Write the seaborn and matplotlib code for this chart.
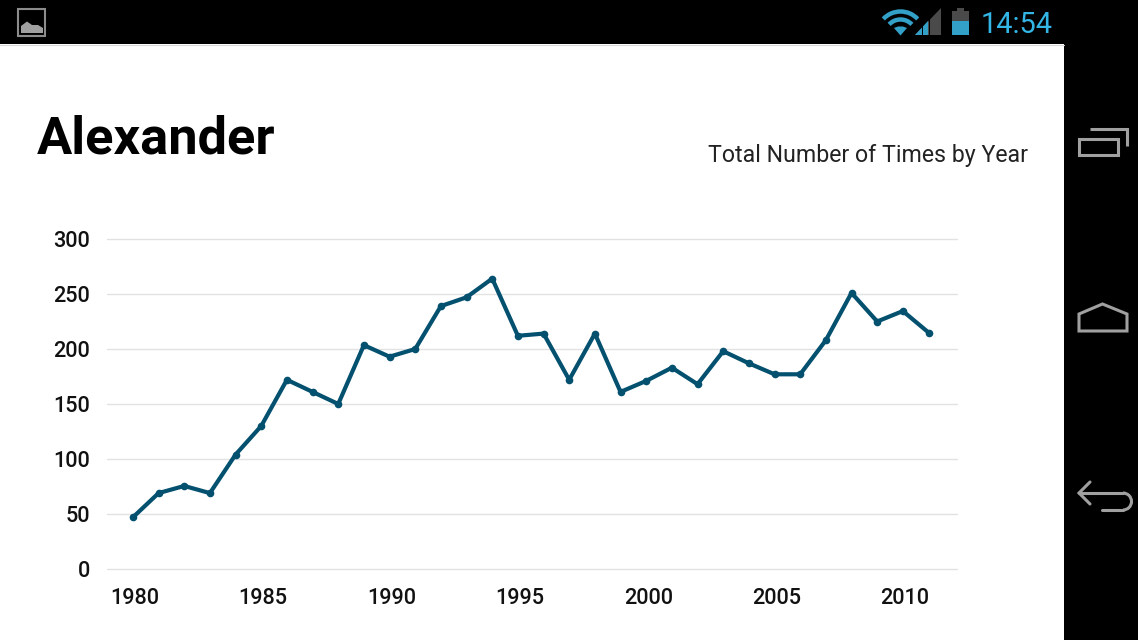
import matplotlib
matplotlib.use("Agg")
import matplotlib.pyplot as plt
from matplotlib.patches import Rectangle, Polygon, Arc
from matplotlib.transforms import ScaledTranslation
import pandas as pd
import seaborn as sns

years = list(range(1980, 2012))
counts = [47, 69, 75.5, 69, 104, 130, 172, 161, 150, 203.5, 193, 200, 239, 247, 264, 212,
          214, 172, 214, 161, 171, 183, 168, 198, 187, 177, 177, 208, 251, 225, 234.5, 215]
y_ticks = [0, 50, 100, 150, 200, 250, 300]
x_ticks = [1980, 1985, 1990, 1995, 2000, 2005, 2010]
title = "Alexander"
subtitle = "Total Number of Times by Year"
clock = "14:54"

LINE = "#03506f"
GRID = "#e2e2e2"
HOLO = "#33a0c8"
ICON = "#a0a0a0"
DARK = "#4a4a4a"

sns.set_theme(style="white")
plt.rcParams["font.family"] = ["Roboto", "DejaVu Sans"]

W, H = 1138, 640
fig = plt.figure(figsize=(W / 100, H / 100), dpi=100, facecolor="white")

# chart axes: 107..957 px wide, y 239..569 px for 300..0
ax = fig.add_axes([107 / W, 1 - 569 / H, 850 / W, 330 / H])
df = pd.DataFrame({"year": years, "count": counts})
sns.lineplot(data=df, x="year", y="count", ax=ax, color=LINE, linewidth=3.0,
             marker="o", markersize=5.5, markeredgewidth=0, zorder=3)
ax.set_xlim(1978.99, 2012.11)
ax.set_ylim(0, 300)
ax.set_xticks(x_ticks)
ax.set_yticks(y_ticks)
ax.set_xlabel("")
ax.set_ylabel("")
ax.set_facecolor("none")
ax.grid(axis="y", color=GRID, linewidth=1, clip_on=False)
for s in ax.spines.values():
    s.set_visible(False)
ax.tick_params(axis="both", length=0, labelsize=15.6, labelcolor="#111111")
for lab in ax.get_xticklabels() + ax.get_yticklabels():
    lab.set_fontweight("medium")
ax.tick_params(axis="x", pad=14)
ax.tick_params(axis="y", pad=12.2)
shift = ScaledTranslation(2 / 100, 0, fig.dpi_scale_trans)
for lab in ax.get_xticklabels():
    lab.set_transform(lab.get_transform() + shift)

fig.text(37 / W, 1 - 154 / H, title, fontsize=37.7, fontweight="bold", color="black",
         ha="left", va="baseline")
fig.text(1028 / W, 1 - 162 / H, subtitle, fontsize=16.7, color="#222222",
         ha="right", va="baseline")

# device chrome in pixel coordinates
ch = fig.add_axes([0, 0, 1, 1], zorder=5)
ch.set_xlim(0, W)
ch.set_ylim(H, 0)
ch.axis("off")
ch.add_patch(Rectangle((0, 0), W, 44, fc="black", ec="none"))
ch.add_patch(Rectangle((1064, 0), W - 1064, H, fc="black", ec="none"))
ch.plot([0, 1064], [44.5, 44.5], color="#d8d8d8", lw=0.8)

# picture notification icon
ch.add_patch(Rectangle((18.5, 8.5), 27, 27, fc="none", ec="#8c8c8c", lw=1.5))
ch.add_patch(Polygon([(21, 33), (21, 26), (27, 21.5), (32, 25), (38, 25), (43, 28), (43, 33)],
                     fc=ICON, ec="none"))

# wifi
for r in (23.5, 15.5):
    ch.add_patch(Arc((900.5, 35), 2 * r, 2 * r, theta1=223, theta2=317, color=HOLO, lw=3.2))
ch.add_patch(Polygon([(894, 28), (898, 26.5), (903, 26.5), (907, 28), (900.5, 35.5)],
                     fc=HOLO, ec="none"))

# signal
ch.add_patch(Polygon([(941, 8), (941, 35), (915, 35)], fc=DARK, ec="none"))
ch.add_patch(Polygon([(928, 21), (928, 35), (915, 35)], fc=HOLO, ec="none"))
ch.plot([922, 922], [25, 36], color="black", lw=0.7)
ch.plot([929, 929], [18, 36], color="black", lw=0.7)

# battery
ch.add_patch(Rectangle((952, 11), 17, 24, fc=DARK, ec="none"))
ch.add_patch(Rectangle((957, 8), 7, 3, fc=DARK, ec="none"))
ch.add_patch(Rectangle((952, 21), 17, 14, fc=HOLO, ec="none"))

ch.text(980.5, 33, clock, color="#33b5e5", fontsize=20.9, ha="left", va="baseline")

# recent apps
ch.plot([1090, 1127, 1127], [129, 129, 146], color=ICON, lw=2.2, solid_capstyle="butt",
        solid_joinstyle="miter")
ch.add_patch(Rectangle((1079, 138.5), 39, 16, fc="none", ec=ICON, lw=2.2))
# home
ch.add_patch(Polygon([(1079, 331), (1079, 314), (1102.5, 304), (1127, 314), (1127, 331)],
                     closed=True, fc="none", ec=ICON, lw=2.2))
# back
ch.plot([1090, 1079, 1090], [482, 493, 504], color=ICON, lw=2.2, solid_joinstyle="miter")
ch.plot([1079, 1123], [493, 493], color=ICON, lw=2.2)
ch.add_patch(Arc((1123, 501.5), 17, 17, theta1=-90, theta2=90, color=ICON, lw=2.2))
ch.plot([1102, 1123], [510, 510], color=ICON, lw=2.2)

fig.savefig("out.png", dpi=100)
